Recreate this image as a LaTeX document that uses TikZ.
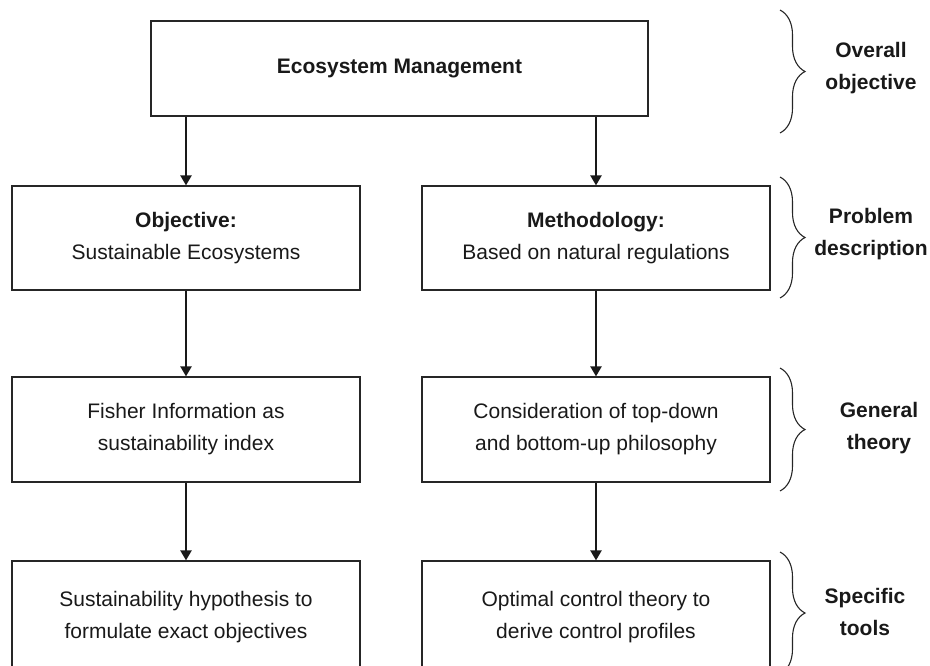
\documentclass[tikz,border=0pt]{standalone}
\usepackage{fontspec}
\setmainfont{Liberation Sans}
\usetikzlibrary{arrows.meta,decorations.pathreplacing}

\begin{document}
\begin{tikzpicture}[x=1pt, y=-1pt, >={Triangle[length=10pt,width=11pt]},
    box/.style={draw=black!85, line width=1.2pt, align=center, text=black!90,
        minimum width=348pt, minimum height=104pt, inner sep=0pt,
        font=\fontsize{21}{32}\selectfont},
    link/.style={->, line width=2.2pt, black!90},
    bracket/.style={decorate, decoration={brace, amplitude=25pt},
        line width=1.1pt, black!85},
    level/.style={align=center, text=black!90,
        font=\fontsize{21}{32}\selectfont\bfseries}]

    %% Frame
    \clip (0,0) rectangle (930,665);

    % Overall objective
    \node[box, minimum width=497pt, minimum height=95pt] (eco) at (399.5,68.5)
        {\textbf{Ecosystem Management}};

    % Problem description
    \node[box] (obj) at (186,238) {\textbf{Objective:}\\Sustainable Ecosystems};
    \node[box] (meth) at (596,238) {\textbf{Methodology:}\\Based on natural regulations};

    % General theory
    \node[box, minimum height=105pt] (fisher) at (186,429.5)
        {Fisher Information as\\sustainability index};
    \node[box, minimum height=105pt] (phil) at (596,429.5)
        {Consideration of top-down\\and bottom-up philosophy};

    % Specific tools (cut off at the bottom)
    \node[box, minimum height=112pt] (hypo) at (186,617)
        {Sustainability hypothesis to\\formulate exact objectives};
    \node[box, minimum height=112pt] (ctrl) at (596,617)
        {Optimal control theory to\\derive control profiles};

    % Arrows
    \draw[link] (eco.south -| obj.north) -- (obj.north);
    \draw[link] (eco.south -| meth.north) -- (meth.north);
    \draw[link] (obj) -- (fisher);
    \draw[link] (meth) -- (phil);
    \draw[link] (fisher) -- (hypo);
    \draw[link] (phil) -- (ctrl);

    % Levels
    \draw[bracket] (780,10) -- (780,133);
    \draw[bracket] (780,177) -- (780,298);
    \draw[bracket] (780,368) -- (780,491);
    \draw[bracket] (780,552) -- (780,674);

    \node[level] (lvlA) at (871,68) {Overall\\objective};
    \node[level] (lvlB) at (871,234) {Problem\\description};
    \node[level] (lvlC) at (879,428) {General\\theory};
    \node[level] (lvlD) at (865,612) {Specific\\tools};

\end{tikzpicture}
\end{document}
